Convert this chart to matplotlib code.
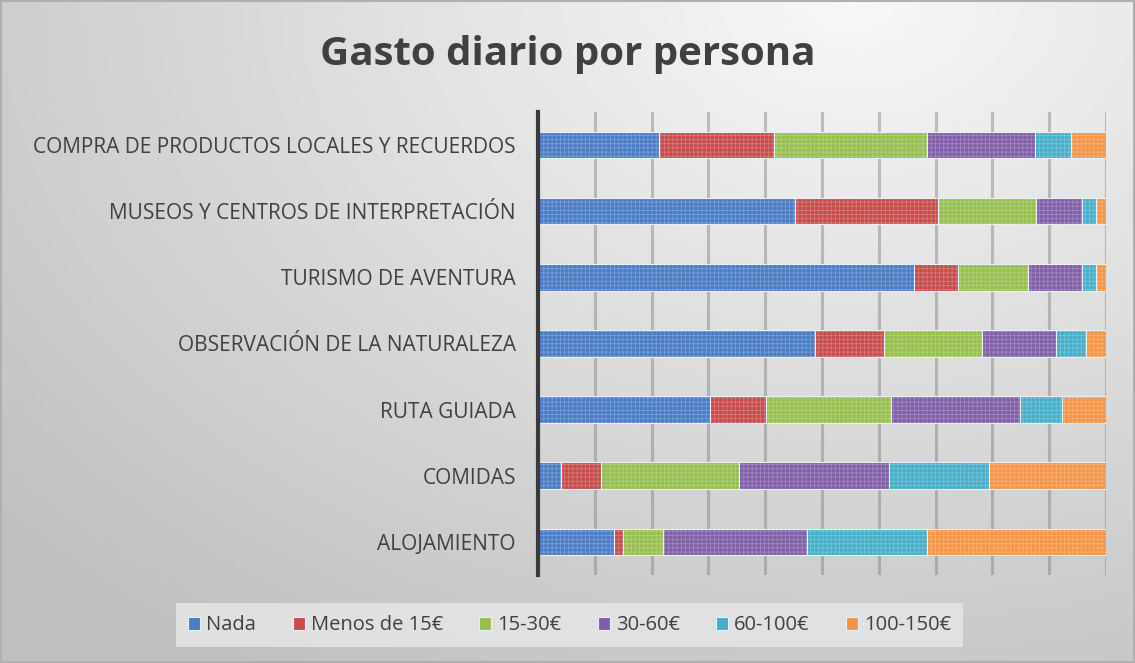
import matplotlib.pyplot as plt
import numpy as np

categories = ['COMPRA DE PRODUCTOS LOCALES Y RECUERDOS',
              'MUSEOS Y CENTROS DE INTERPRETACIÓN',
              'TURISMO DE AVENTURA',
              'OBSERVACIÓN DE LA NATURALEZA',
              'RUTA GUIADA',
              'COMIDAS',
              'ALOJAMIENTO']
series = ['Nada', 'Menos de 15€', '15-30€', '30-60€', '60-100€', '100-150€']
colors = ['#4a7cc4', '#c84b4b', '#97bf4e', '#7f5fa8', '#45aec8', '#f59445']

nada = [21.3, 45.2, 66.2, 48.8, 30.3, 4.0, 13.4]
menos15 = [20.2, 25.2, 7.7, 12.1, 9.9, 7.0, 1.6]
e15_30 = [26.9, 17.3, 12.3, 17.3, 22.0, 24.3, 7.0]
e30_60 = [19.0, 8.1, 9.5, 13.0, 22.7, 26.4, 25.4]
e60_100 = [6.3, 2.5, 2.5, 5.3, 7.4, 17.6, 21.1]
e100_150 = [6.2, 1.8, 1.8, 3.5, 7.7, 20.6, 31.5]
values = [nada, menos15, e15_30, e30_60, e60_100, e100_150]

plt.rcParams['font.family'] = ['Open Sans', 'DejaVu Sans']
plt.rcParams['hatch.linewidth'] = 0.6

fig = plt.figure(figsize=(11.35, 6.63), dpi=100)

# gradient background
bg = fig.add_axes([0, 0, 1, 1], zorder=-10)
yy, xx = np.mgrid[0:1:200j, 0:1:300j]
d = np.sqrt(((xx - 0.75) * 1.2) ** 2 + ((yy - 0.0) * 1.0) ** 2)
shade = 0.97 - 0.22 * np.clip(d, 0, 1.2) / 1.2
bg.imshow(shade, cmap='gray', vmin=0, vmax=1, aspect='auto', extent=[0, 1, 1, 0])
bg.set_xlim(0, 1)
bg.set_ylim(1, 0)
bg.axis('off')
fig.patches.append(plt.Rectangle((0.001, 0.001), 0.998, 0.997, transform=fig.transFigure,
                                 fill=False, edgecolor='#b0b0b0', linewidth=1.5))

ax = fig.add_axes([0.474, 0.133, 0.5005, 0.698])
ax.patch.set_alpha(0)

data = np.array(values)
totals = data.sum(axis=0)
pct = data / totals * 100
y = np.arange(len(categories))
left = np.zeros(len(categories))
for i, name in enumerate(series):
    ax.barh(y, pct[i], left=left, height=0.4, color=colors[i], edgecolor='#e8eef5',
            linewidth=0.8, label=name, zorder=3)
    ax.barh(y, pct[i], left=left, height=0.4, color='none', edgecolor=(1, 1, 1, 0.25),
            hatch='++++', linewidth=0, zorder=4)
    left += pct[i]

ax.set_xlim(0, 100)
ax.set_ylim(len(categories) - 0.5, -0.5)
ax.set_xticks(np.arange(0, 101, 10))
ax.xaxis.grid(True, color='#808080', alpha=0.45, linewidth=2.2, zorder=1)
ax.tick_params(axis='x', length=0, labelbottom=False)
ax.tick_params(axis='y', length=0, pad=16, labelsize=15, labelcolor='#404040')
ax.set_yticks(y)
ax.set_yticklabels(categories)
for s in ['top', 'right', 'bottom']:
    ax.spines[s].set_visible(False)
ax.spines['left'].set_color('#3a3a3a')
ax.spines['left'].set_linewidth(3)
ax.spines['left'].set_zorder(5)

fig.text(0.5, 0.918, 'Gasto diario por persona', ha='center', va='center',
         fontsize=29, fontweight='bold', color='#404040')

handles, labels = ax.get_legend_handles_labels()
leg = fig.legend(handles, labels, loc='center', bbox_to_anchor=(0.502, 0.057), ncol=6,
                 frameon=True, fontsize=14.5, handlelength=0.6, handleheight=0.6,
                 handletextpad=0.3, columnspacing=1.8, borderpad=0.6, borderaxespad=0)
leg.get_frame().set_facecolor('#e4e4e4')
leg.get_frame().set_edgecolor('none')
leg.get_frame().set_alpha(0.9)
leg.get_frame().set_boxstyle('square', pad=0)
for t in leg.get_texts():
    t.set_color('#404040')

fig.savefig('out.png', dpi=100)
